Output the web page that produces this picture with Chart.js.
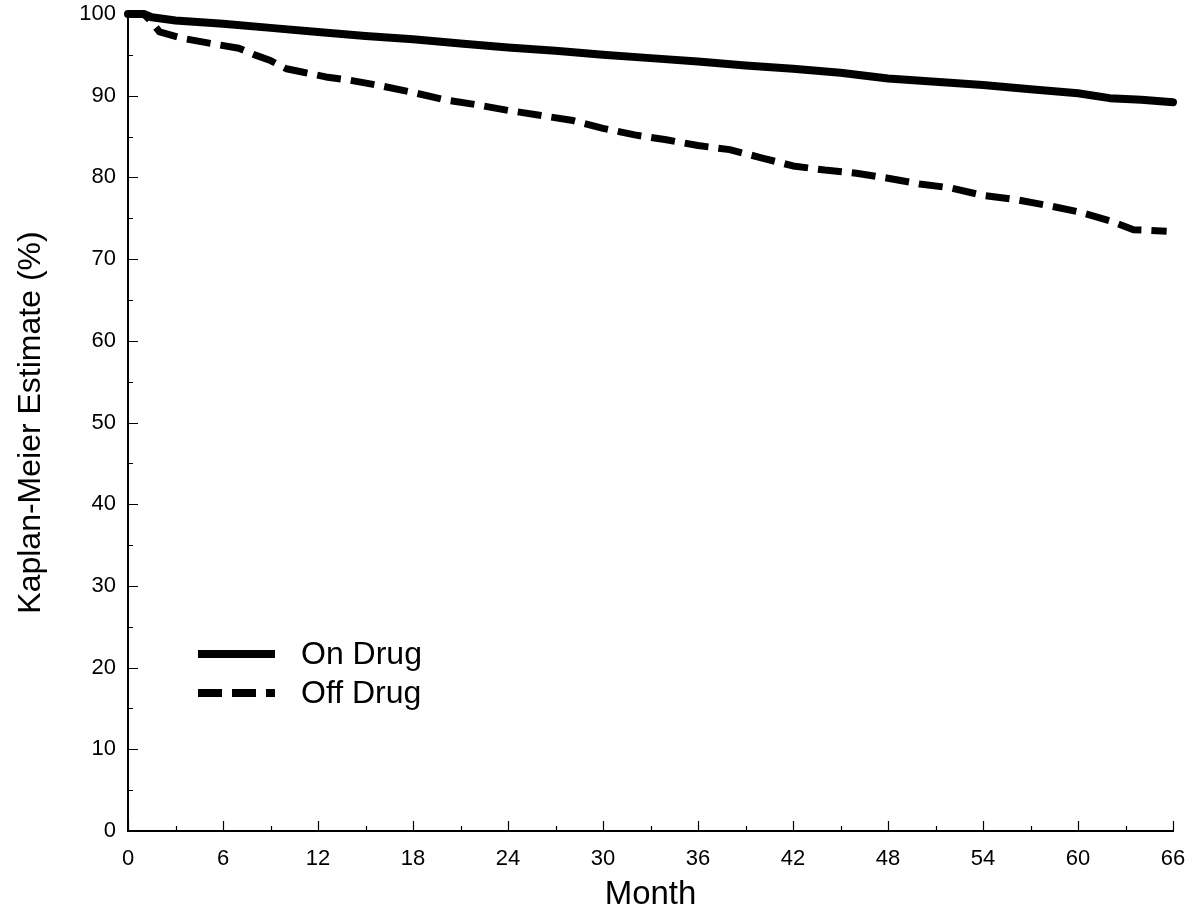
<!DOCTYPE html>
<html>
<head>
<meta charset="utf-8">
<script src="https://cdn.jsdelivr.net/npm/chart.js@4/dist/chart.umd.min.js"></script>
<style>
  html, body { margin: 0; padding: 0; background: #fff; }
  #wrap { width: 1195px; height: 915px; }
</style>
</head>
<body>
<div id="wrap"><canvas id="c" width="1195" height="915"></canvas></div>
<script>
// ---- data ----
const onDrugMonths = [0, 1, 1.5, 3, 6, 9, 12, 15, 18, 21, 24, 27, 30, 33, 36, 39, 42, 45, 48, 51, 54, 57, 60, 62, 64, 66];
const onDrugValues = [100, 100, 99.6, 99.2, 98.8, 98.3, 97.8, 97.3, 96.9, 96.4, 95.9, 95.5, 95.0, 94.6, 94.2, 93.7, 93.3, 92.8, 92.1, 91.7, 91.3, 90.8, 90.3, 89.7, 89.5, 89.2];

const offDrugMonths = [0, 1, 1.5, 2, 3.5, 5.5, 7, 8, 9, 10, 11, 12.5, 14, 16, 18, 20, 22, 24, 26, 28, 30, 32, 34, 36, 38, 40, 42, 44, 46, 48, 50, 52, 54, 56, 58, 60, 62, 63.5, 65.6];
const offDrugValues = [100, 100, 99.0, 97.8, 97.0, 96.3, 95.8, 95.0, 94.3, 93.3, 92.9, 92.3, 91.9, 91.2, 90.4, 89.5, 88.9, 88.2, 87.6, 87.0, 86.0, 85.2, 84.6, 83.9, 83.4, 82.4, 81.4, 80.9, 80.5, 79.9, 79.2, 78.7, 77.8, 77.3, 76.6, 75.8, 74.7, 73.6, 73.4];

const seriesLabels = ['On Drug', 'Off Drug'];
const xTitle = 'Month';
const yTitle = 'Kaplan-Meier Estimate (%)';

const FONT = '"Liberation Sans", Arial, Helvetica, sans-serif';

function toPoints(xs, ys) { return xs.map((x, i) => ({ x: x, y: ys[i] })); }

// inward tick marks drawn through the library scales
const inwardTicks = {
  id: 'inwardTicks',
  beforeDatasetsDraw(chart) {
    const { ctx, chartArea, scales } = chart;
    const xs = scales.x, ys = scales.y;
    ctx.save();
    ctx.strokeStyle = '#000';
    ctx.lineWidth = 1.2;
    ctx.beginPath();
    for (let v = 0; v <= 100; v += 5) {
      const py = Math.round(ys.getPixelForValue(v)) + 0.5;
      const len = (v % 10 === 0) ? 10 : 5;
      ctx.moveTo(chartArea.left, py);
      ctx.lineTo(chartArea.left + len, py);
    }
    for (let m = 0; m <= 66; m += 3) {
      const px = Math.round(xs.getPixelForValue(m)) + 0.5;
      const len = (m % 6 === 0) ? 10 : 5;
      ctx.moveTo(px, chartArea.bottom);
      ctx.lineTo(px, chartArea.bottom - len);
    }
    ctx.stroke();
    ctx.restore();
  }
};

// legend drawn inside the plot area
const innerLegend = {
  id: 'innerLegend',
  afterDraw(chart) {
    const { ctx, chartArea } = chart;
    const x0 = chartArea.left + 70, x1 = chartArea.left + 147;
    const rows = [chartArea.top + 640, chartArea.top + 679];
    ctx.save();
    chart.data.datasets.forEach((ds, i) => {
      const y = rows[i];
      ctx.strokeStyle = ds.borderColor;
      ctx.lineWidth = 8;
      ctx.lineCap = 'butt';
      ctx.setLineDash(ds.borderDash || []);
      ctx.beginPath();
      ctx.moveTo(x0, y);
      ctx.lineTo(x1, y);
      ctx.stroke();
      ctx.setLineDash([]);
      ctx.fillStyle = '#000';
      ctx.font = '32px ' + FONT;
      ctx.textBaseline = 'middle';
      ctx.textAlign = 'left';
      ctx.fillText(ds.label, chartArea.left + 173, y + 1);
    });
    ctx.restore();
  }
};

new Chart(document.getElementById('c'), {
  type: 'line',
  data: {
    datasets: [
      {
        label: seriesLabels[0],
        data: toPoints(onDrugMonths, onDrugValues),
        borderColor: '#000',
        borderWidth: 8,
        borderCapStyle: 'round',
        borderJoinStyle: 'round',
        pointRadius: 0,
        tension: 0,
        fill: false,
        clip: false
      },
      {
        label: seriesLabels[1],
        data: toPoints(offDrugMonths, offDrugValues),
        borderColor: '#000',
        borderWidth: 7,
        borderDash: [24, 10],
        borderCapStyle: 'butt',
        borderJoinStyle: 'round',
        pointRadius: 0,
        tension: 0,
        fill: false,
        clip: false
      }
    ]
  },
  options: {
    responsive: false,
    animation: false,
    devicePixelRatio: 1,
    layout: { padding: { left: 0, right: 22, top: 14, bottom: 0 } },
    plugins: {
      legend: { display: false },
      tooltip: { enabled: false }
    },
    scales: {
      x: {
        type: 'linear',
        min: 0, max: 66,
        grid: { display: false, drawTicks: false },
        border: { display: true, color: '#000', width: 2 },
        ticks: {
          stepSize: 6, autoSkip: false, maxRotation: 0, padding: 15,
          color: '#000', font: { family: FONT, size: 22 }
        },
        title: {
          display: true, text: xTitle, color: '#000',
          font: { family: FONT, size: 33 }, padding: { top: 5, bottom: 0 }
        },
        afterFit(scale) {
          scale.height = 915 - 831;
          scale.paddingLeft = 0; scale.paddingRight = 0;
        }
      },
      y: {
        type: 'linear',
        min: 0, max: 100,
        grid: { display: false, drawTicks: false },
        border: { display: true, color: '#000', width: 2 },
        ticks: {
          stepSize: 10, autoSkip: false, padding: 12,
          color: '#000', font: { family: FONT, size: 22 }
        },
        title: {
          display: true, text: yTitle, color: '#000',
          font: { family: FONT, size: 32 }, padding: { top: 12, bottom: 6 }
        },
        afterFit(scale) {
          scale.width = 128;
          scale.paddingTop = 0; scale.paddingBottom = 0;
        }
      }
    }
  },
  plugins: [inwardTicks, innerLegend]
});
</script>
</body>
</html>
